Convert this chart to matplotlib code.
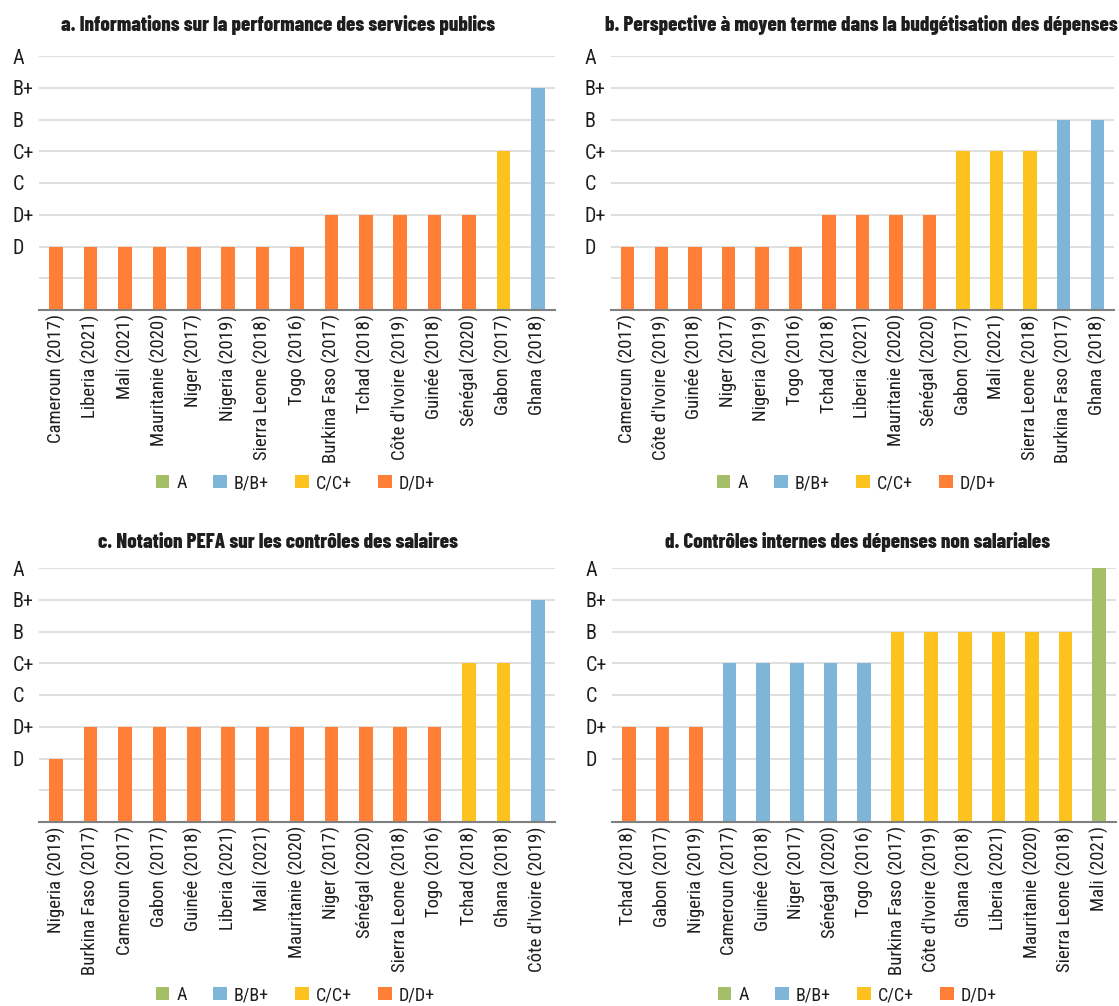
import matplotlib
matplotlib.use("Agg")
import matplotlib.pyplot as plt
from matplotlib.patches import Patch

BODY_FONT = ["Roboto Condensed", "Barlow Condensed", "DejaVu Sans"]
TITLE_FONT = ["Barlow Condensed", "Roboto Condensed", "DejaVu Sans"]
plt.rcParams["font.family"] = BODY_FONT

# PEFA grade scale (numeric position -> label)
grade_ticks = [0, 1, 2, 3, 4, 5, 6, 7, 8]
grade_labels = ["", "", "D", "D+", "C", "C+", "B", "B+", "A"]

legend_labels = ["A", "B/B+", "C/C+", "D/D+"]
palette = {"A": "#A5BF69", "B/B+": "#7EB5D9", "C/C+": "#FDC21E", "D/D+": "#FF7F37"}

# a. Informations sur la performance des services publics
a_title = "a. Informations sur la performance des services publics"
a_countries = ["Cameroun (2017)", "Liberia (2021)", "Mali (2021)", "Mauritanie (2020)",
               "Niger (2017)", "Nigeria (2019)", "Sierra Leone (2018)", "Togo (2016)",
               "Burkina Faso (2017)", "Tchad (2018)", "Côte d'Ivoire (2019)", "Guinée (2018)",
               "Sénégal (2020)", "Gabon (2017)", "Ghana (2018)"]
a_scores = [2, 2, 2, 2, 2, 2, 2, 2, 3, 3, 3, 3, 3, 5, 7]
a_groups = ["D/D+"] * 13 + ["C/C+", "B/B+"]

# b. Perspective à moyen terme dans la budgétisation des dépenses
b_title = "b. Perspective à moyen terme dans la budgétisation des dépenses"
b_countries = ["Cameroun (2017)", "Côte d'Ivoire (2019)", "Guinée (2018)", "Niger (2017)",
               "Nigeria (2019)", "Togo (2016)", "Tchad (2018)", "Liberia (2021)",
               "Mauritanie (2020)", "Sénégal (2020)", "Gabon (2017)", "Mali (2021)",
               "Sierra Leone (2018)", "Burkina Faso (2017)", "Ghana (2018)"]
b_scores = [2, 2, 2, 2, 2, 2, 3, 3, 3, 3, 5, 5, 5, 6, 6]
b_groups = ["D/D+"] * 10 + ["C/C+"] * 3 + ["B/B+"] * 2

# c. Notation PEFA sur les contrôles des salaires
c_title = "c. Notation PEFA sur les contrôles des salaires"
c_countries = ["Nigeria (2019)", "Burkina Faso (2017)", "Cameroun (2017)", "Gabon (2017)",
               "Guinée (2018)", "Liberia (2021)", "Mali (2021)", "Mauritanie (2020)",
               "Niger (2017)", "Sénégal (2020)", "Sierra Leone (2018)", "Togo (2016)",
               "Tchad (2018)", "Ghana (2018)", "Côte d'Ivoire (2019)"]
c_scores = [2, 3, 3, 3, 3, 3, 3, 3, 3, 3, 3, 3, 5, 5, 7]
c_groups = ["D/D+"] * 12 + ["C/C+"] * 2 + ["B/B+"]

# d. Contrôles internes des dépenses non salariales
d_title = "d. Contrôles internes des dépenses non salariales"
d_countries = ["Tchad (2018)", "Gabon (2017)", "Nigeria (2019)", "Cameroun (2017)",
               "Guinée (2018)", "Niger (2017)", "Sénégal (2020)", "Togo (2016)",
               "Burkina Faso (2017)", "Côte d'Ivoire (2019)", "Ghana (2018)", "Liberia (2021)",
               "Mauritanie (2020)", "Sierra Leone (2018)", "Mali (2021)"]
d_scores = [3, 3, 3, 5, 5, 5, 5, 5, 6, 6, 6, 6, 6, 6, 8]
d_groups = ["D/D+"] * 3 + ["B/B+"] * 5 + ["C/C+"] * 6 + ["A"]

TEXT = "#1E1E1E"
W, H = 1119, 1006

fig = plt.figure(figsize=(W / 100, H / 100), dpi=100)
fig.patch.set_facecolor("white")


def px_box(left, top, right, bottom):
    return [left / W, 1 - bottom / H, (right - left) / W, (bottom - top) / H]


panels = [
    (a_title, a_countries, a_scores, a_groups, px_box(39, 56, 555, 310), 278, 31, 295.5, 483),
    (b_title, b_countries, b_scores, b_groups, px_box(611, 56, 1114, 310), 861, 31, 856.5, 483),
    (c_title, c_countries, c_scores, c_groups, px_box(39, 568, 555, 822), 278, 548, 295.5, 995),
    (d_title, d_countries, d_scores, d_groups, px_box(612, 568, 1116, 822), 858, 548, 857.5, 995),
]

for title, countries, scores, groups, box, tx, ty, lx, ly in panels:
    ax = fig.add_axes(box)
    x = list(range(len(countries)))
    ax.bar(x, scores, width=0.4, color=[palette[g] for g in groups], zorder=3)
    ax.set_xlim(-0.5, len(countries) - 0.5)
    ax.set_ylim(0, 8)
    ax.set_yticks(grade_ticks)
    ax.set_yticklabels(grade_labels, ha="left", fontsize=14.5, color=TEXT)
    ax.tick_params(axis="y", length=0, pad=19)
    ax.set_xticks(x)
    ax.set_xticklabels(countries, rotation=90, fontsize=13.5, color=TEXT)
    ax.tick_params(axis="x", length=0, pad=3)
    ax.grid(axis="y", color="#D9D9D9", linewidth=1.2, zorder=0)
    for side in ("left", "right", "top"):
        ax.spines[side].set_visible(False)
    ax.spines["bottom"].set_color("#808080")
    ax.spines["bottom"].set_linewidth(1.5)
    ax.spines["bottom"].set_zorder(4)

    fig.text(tx / W, 1 - ty / H, title, ha="center", va="baseline",
             fontsize=15, fontweight=800, color=TEXT, family=TITLE_FONT)

    handles = [Patch(facecolor=palette[k], edgecolor="none") for k in legend_labels]
    fig.legend(handles, legend_labels, loc="center", bbox_to_anchor=(lx / W, 1 - ly / H),
               ncol=4, frameon=False, fontsize=13, handlelength=0.75, handleheight=0.75,
               handletextpad=0.4, columnspacing=1.45, labelcolor=TEXT,
               borderpad=0, borderaxespad=0)

fig.savefig("out.png", dpi=100, facecolor="white")
